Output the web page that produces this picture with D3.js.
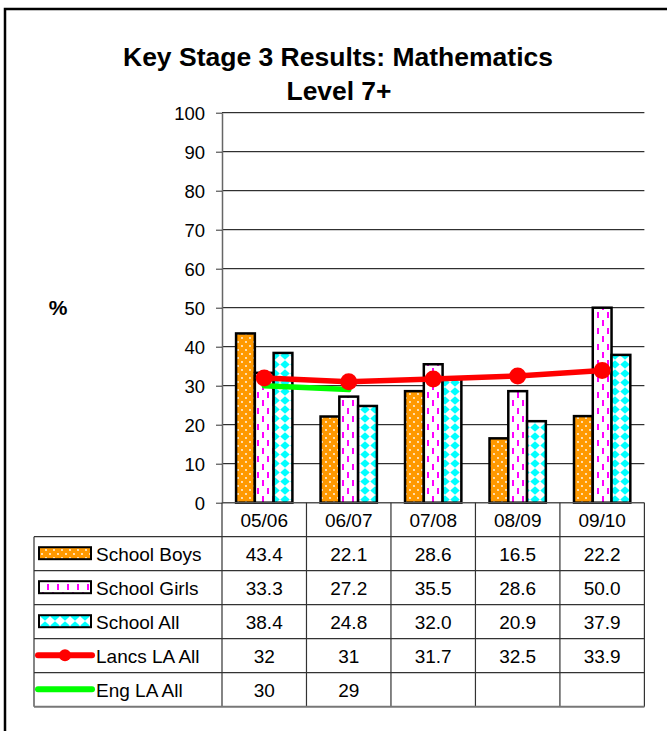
<!DOCTYPE html>
<html>
<head>
<meta charset="utf-8">
<script src="https://cdn.jsdelivr.net/npm/d3@7"></script>
<style>
  html, body { margin: 0; padding: 0; background: #fff; }
  svg { display: block; font-family: "Liberation Sans", Arial, sans-serif; }
</style>
</head>
<body>
<svg id="chart"></svg>
<script>
const categories = ['05/06', '06/07', '07/08', '08/09', '09/10'];
const schoolBoys = [43.4, 22.1, 28.6, 16.5, 22.2];
const schoolGirls = [33.3, 27.2, 35.5, 28.6, 50.0];
const schoolAll = [38.4, 24.8, 32.0, 20.9, 37.9];
const lancsAll = [32, 31, 31.7, 32.5, 33.9];
const engAll = [30, 29, null, null, null];
const yTicks = [0, 10, 20, 30, 40, 50, 60, 70, 80, 90, 100];

const W = 667, H = 731;
const plot = { left: 222, right: 644.4, top: 112.7, bottom: 502.7 };
const rowH = 34;
const tableLeft = 34;
const tableFont = 19;

const svg = d3.select('#chart').attr('width', W).attr('height', H);

// fill patterns
const defs = svg.append('defs');
const pBoys = defs.append('pattern').attr('id', 'pBoys')
  .attr('patternUnits', 'userSpaceOnUse').attr('width', 8).attr('height', 8);
pBoys.append('rect').attr('width', 8).attr('height', 8).attr('fill', '#ff9900');
pBoys.append('circle').attr('cx', 2).attr('cy', 2).attr('r', 0.9).attr('fill', '#fff');
pBoys.append('circle').attr('cx', 6).attr('cy', 6).attr('r', 0.9).attr('fill', '#fff');

const pGirls = defs.append('pattern').attr('id', 'pGirls')
  .attr('patternUnits', 'userSpaceOnUse').attr('width', 10).attr('height', 16);
pGirls.append('rect').attr('width', 10).attr('height', 16).attr('fill', '#fff');
pGirls.append('rect').attr('x', 2).attr('y', 0).attr('width', 2).attr('height', 6).attr('fill', '#ff00ff');
pGirls.append('rect').attr('x', 7).attr('y', 8).attr('width', 2).attr('height', 6).attr('fill', '#ff00ff');

const pAll = defs.append('pattern').attr('id', 'pAll')
  .attr('patternUnits', 'userSpaceOnUse').attr('width', 10).attr('height', 9);
pAll.append('rect').attr('width', 10).attr('height', 9).attr('fill', '#fff');
pAll.append('path').attr('d', 'M5,0.3 L9.7,4.5 L5,8.7 L0.3,4.5 Z').attr('fill', '#00ffff');

const barSeries = [
  { name: 'School Boys', values: schoolBoys, fill: 'url(#pBoys)' },
  { name: 'School Girls', values: schoolGirls, fill: 'url(#pGirls)' },
  { name: 'School All', values: schoolAll, fill: 'url(#pAll)' },
];
const lineSeries = [
  { name: 'Lancs LA All', values: lancsAll, color: '#ff0000', marker: true },
  { name: 'Eng LA All', values: engAll, color: '#00ff00', marker: false },
];

// outer frame (runs off the right and bottom edges)
svg.append('path')
  .attr('d', `M5,${H + 5} L5,9 L${W + 5},9`)
  .attr('fill', 'none').attr('stroke', '#000').attr('stroke-width', 2.5);

// title
svg.append('text').attr('x', 338).attr('y', 66)
  .attr('text-anchor', 'middle').attr('font-size', 25).attr('font-weight', 'bold')
  .attr('textLength', 430).attr('lengthAdjust', 'spacingAndGlyphs')
  .text('Key Stage 3 Results: Mathematics');
svg.append('text').attr('x', 339).attr('y', 100)
  .attr('text-anchor', 'middle').attr('font-size', 25).attr('font-weight', 'bold')
  .attr('textLength', 105).attr('lengthAdjust', 'spacingAndGlyphs')
  .text('Level 7+');

const x = d3.scaleBand().domain(categories).range([plot.left, plot.right]).paddingInner(0).paddingOuter(0);
const x1 = d3.scaleBand().domain(barSeries.map(s => s.name)).range([0, x.bandwidth()])
  .paddingInner(0).paddingOuter(0.75);
const y = d3.scaleLinear().domain([0, 100]).range([plot.bottom, plot.top]);

// gridlines
svg.append('g').selectAll('line').data(yTicks.filter(t => t > 0)).join('line')
  .attr('x1', plot.left).attr('x2', plot.right)
  .attr('y1', d => y(d)).attr('y2', d => y(d))
  .attr('stroke', '#000').attr('stroke-width', 1);

// y axis
const yAxis = d3.axisLeft(y).tickValues(yTicks).tickSize(6).tickSizeOuter(0);
const yAxisG = svg.append('g').attr('transform', `translate(${plot.left},0)`).call(yAxis);
yAxisG.select('.domain').attr('stroke', '#666').attr('stroke-width', 1.5);
yAxisG.selectAll('.tick line').attr('stroke', '#333');
yAxisG.selectAll('.tick text').attr('font-size', 18.5).attr('fill', '#000')
  .attr('font-family', '"Liberation Sans", Arial, sans-serif').attr('x', -17).attr('dy', '0.35em');

svg.append('text').attr('x', 58).attr('y', 315).attr('text-anchor', 'middle')
  .attr('font-size', 21).attr('font-weight', 'bold').text('%');

// bars
barSeries.forEach(s => {
  svg.append('g').selectAll('rect').data(s.values.map((v, i) => ({ v, c: categories[i] }))).join('rect')
    .attr('x', d => x(d.c) + x1(s.name))
    .attr('width', x1.bandwidth())
    .attr('y', d => y(d.v))
    .attr('height', d => y(0) - y(d.v))
    .attr('fill', s.fill)
    .attr('stroke', '#000').attr('stroke-width', 2.5);
});

// lines (Eng under Lancs)
const lineGen = d3.line()
  .defined(d => d.v != null)
  .x(d => x(d.c) + x.bandwidth() / 2)
  .y(d => y(d.v));
[lineSeries[1], lineSeries[0]].forEach(s => {
  const pts = s.values.map((v, i) => ({ v, c: categories[i] }));
  svg.append('path').datum(pts).attr('d', lineGen)
    .attr('fill', 'none').attr('stroke', s.color).attr('stroke-width', 5.5)
    .attr('stroke-linejoin', 'round').attr('stroke-linecap', 'round');
  if (s.marker) {
    svg.append('g').selectAll('circle').data(pts.filter(d => d.v != null)).join('circle')
      .attr('cx', d => x(d.c) + x.bandwidth() / 2).attr('cy', d => y(d.v))
      .attr('r', 8.5).attr('fill', s.color);
  }
});

// x axis line
svg.append('line').attr('x1', plot.left).attr('x2', plot.right)
  .attr('y1', plot.bottom).attr('y2', plot.bottom)
  .attr('stroke', '#555').attr('stroke-width', 1.5);

// data table
const tableTop = plot.bottom;
const rows = [...barSeries, ...lineSeries];
const tableBottom = tableTop + rowH * (rows.length + 1);
const tg = svg.append('g');

const vx = categories.map(c => x(c)).concat([plot.right]);
tg.selectAll('line.v').data(vx).join('line').attr('class', 'v')
  .attr('x1', d => d).attr('x2', d => d)
  .attr('y1', tableTop).attr('y2', tableBottom)
  .attr('stroke', '#333').attr('stroke-width', 1.2);
tg.append('line').attr('x1', tableLeft).attr('x2', tableLeft)
  .attr('y1', tableTop + rowH).attr('y2', tableBottom)
  .attr('stroke', '#333').attr('stroke-width', 1.2);
tg.selectAll('line.h').data(d3.range(1, rows.length + 1)).join('line').attr('class', 'h')
  .attr('x1', tableLeft).attr('x2', plot.right)
  .attr('y1', d => tableTop + d * rowH).attr('y2', d => tableTop + d * rowH)
  .attr('stroke', '#333').attr('stroke-width', 1.2);
tg.append('line').attr('x1', tableLeft).attr('x2', plot.right)
  .attr('y1', tableBottom).attr('y2', tableBottom)
  .attr('stroke', '#777').attr('stroke-width', 2);

// header
tg.selectAll('text.hdr').data(categories).join('text').attr('class', 'hdr')
  .attr('x', d => x(d) + x.bandwidth() / 2).attr('y', tableTop + rowH / 2 + 7)
  .attr('text-anchor', 'middle').attr('font-size', tableFont).text(d => d);

const fmtBar = d3.format('.1f');
rows.forEach((s, r) => {
  const cy = tableTop + (r + 1) * rowH + rowH / 2;
  const isBar = !!s.fill;
  if (isBar) {
    tg.append('rect').attr('x', 39).attr('y', cy - 6.5).attr('width', 52).attr('height', 12)
      .attr('fill', s.fill).attr('stroke', '#000').attr('stroke-width', 2);
  } else {
    tg.append('line').attr('x1', 38).attr('x2', 92).attr('y1', cy - 0.5).attr('y2', cy - 0.5)
      .attr('stroke', s.color).attr('stroke-width', 6).attr('stroke-linecap', 'round');
    if (s.marker) {
      tg.append('circle').attr('cx', 65).attr('cy', cy - 0.5).attr('r', 6).attr('fill', s.color);
    }
  }
  tg.append('text').attr('x', 96).attr('y', cy + 7.5).attr('font-size', tableFont).text(s.name);
  tg.selectAll(null).data(s.values.map((v, i) => ({ v, c: categories[i] })).filter(d => d.v != null))
    .join('text')
    .attr('x', d => x(d.c) + x.bandwidth() / 2).attr('y', cy + 7)
    .attr('text-anchor', 'middle').attr('font-size', tableFont)
    .text(d => isBar ? fmtBar(d.v) : String(d.v));
});
</script>
</body>
</html>
